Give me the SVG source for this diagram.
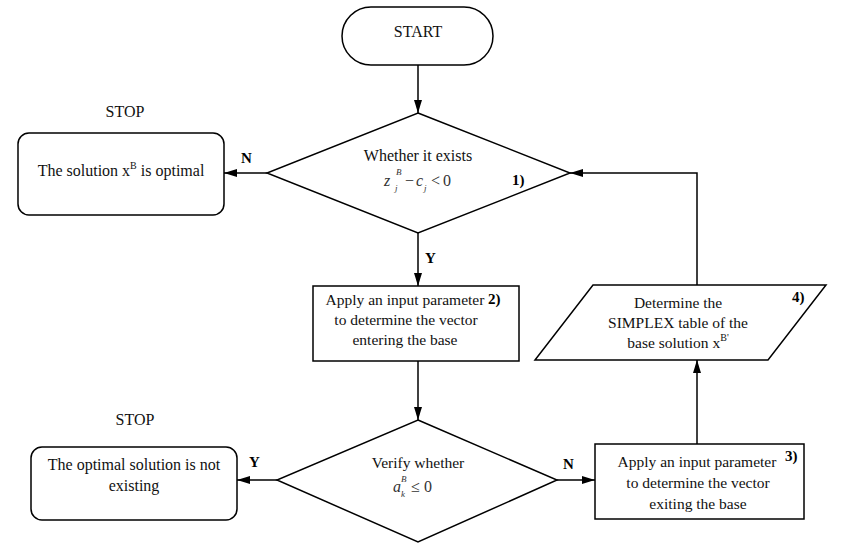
<svg xmlns="http://www.w3.org/2000/svg" width="850" height="556" viewBox="0 0 850 556">
<defs>
<marker id="ah" markerUnits="userSpaceOnUse" markerWidth="13" markerHeight="8" refX="13" refY="4" orient="auto">
<path d="M0,0 L13,4 L0,8 z" fill="#000"/>
</marker>
<style>
text{font-family:"Liberation Serif","DejaVu Serif","Noto Serif","Times New Roman",serif}
.s{fill:#fff;stroke:#000;stroke-width:1.5}
.t{font-size:16px;fill:#111;text-anchor:middle}
.t2{font-size:15.5px;fill:#111;text-anchor:middle}
.b{font-size:15px;font-weight:bold;fill:#000}
.m{font-size:16px;font-style:italic;fill:#333}
.mn{font-size:16px;fill:#333}
.ms{font-size:9px;font-style:italic;fill:#333}
.c{fill:none;stroke:#000;stroke-width:1.5;marker-end:url(#ah)}
</style>
</defs>
<rect width="850" height="556" fill="#fff"/>

<g id="start">
<rect class="s" x="342" y="7" width="151" height="58" rx="29" ry="29"/>
<text class="t" x="418" y="37">START</text>
</g>

<g id="decision1">
<polygon class="s" points="418,113 570,173 418,233 267,173"/>
<text class="t" x="418" y="161">Whether it exists</text>
<text class="m" x="384" y="186">z</text>
<text class="ms" x="396" y="175">B</text>
<text class="ms" x="395" y="191">j</text>
<text class="mn" x="405" y="186">−</text>
<text class="m" x="416" y="186">c</text>
<text class="ms" x="424" y="191">j</text>
<text class="mn" x="431" y="186">&lt;</text>
<text class="mn" x="443" y="186">0</text>
<text class="b" x="512" y="185">1)</text>
</g>

<g id="stop1">
<text class="t" x="125" y="117">STOP</text>
<rect class="s" x="18" y="133" width="206" height="82" rx="11" ry="11"/>
<text class="t" x="121" y="176">The solution x<tspan font-size="10" dy="-7">B</tspan><tspan dy="7"> is optimal</tspan></text>
</g>

<g id="process2">
<rect class="s" x="313" y="286" width="206" height="75"/>
<text class="t2" x="405" y="305">Apply an input parameter</text>
<text class="t2" x="406" y="325">to determine the vector</text>
<text class="t2" x="405" y="345">entering the base</text>
<text class="b" x="488" y="304">2)</text>
</g>

<g id="table4">
<polygon class="s" points="593,285 826,285 768,360 535,360"/>
<text class="t2" x="678" y="308">Determine the</text>
<text class="t2" x="678" y="328">SIMPLEX table of the</text>
<text class="t2" x="678" y="348">base solution x<tspan font-size="10" dy="-7">B'</tspan></text>
<text class="b" x="792" y="302">4)</text>
</g>

<g id="decision2">
<polygon class="s" points="418,420 557,480 418,542 277,480"/>
<text class="t2" x="418" y="468">Verify whether</text>
<text class="m" x="393" y="492">a</text>
<text class="ms" x="401" y="482">B</text>
<text class="ms" x="401" y="497">k</text>
<text class="mn" x="411" y="492">≤</text>
<text class="mn" x="424" y="492">0</text>
</g>

<g id="stop2">
<text class="t" x="135" y="425">STOP</text>
<rect class="s" x="31" y="447" width="206" height="73" rx="11" ry="11"/>
<text class="t" x="134" y="470">The optimal solution is not</text>
<text class="t" x="134" y="491">existing</text>
</g>

<g id="process3">
<rect class="s" x="595" y="444" width="209" height="75"/>
<text class="t2" x="697" y="467">Apply an input parameter</text>
<text class="t2" x="698" y="488">to determine the vector</text>
<text class="t2" x="698" y="509">exiting the base</text>
<text class="b" x="785" y="461">3)</text>
</g>

<g id="connectors">
<path class="c" d="M418,65 L418,113"/>
<path class="c" d="M267,173 L224,173"/>
<path class="c" d="M418,233 L418,286"/>
<path class="c" d="M418,361 L418,420"/>
<path class="c" d="M277,480 L237,480"/>
<path class="c" d="M557,480 L595,480"/>
<path class="c" d="M697,444 L697,360"/>
<path class="c" d="M697,285 L697,173 L570,173"/>
<text class="b" x="241" y="163">N</text>
<text class="b" x="425" y="263">Y</text>
<text class="b" x="249" y="467">Y</text>
<text class="b" x="563" y="469">N</text>
</g>
</svg>
